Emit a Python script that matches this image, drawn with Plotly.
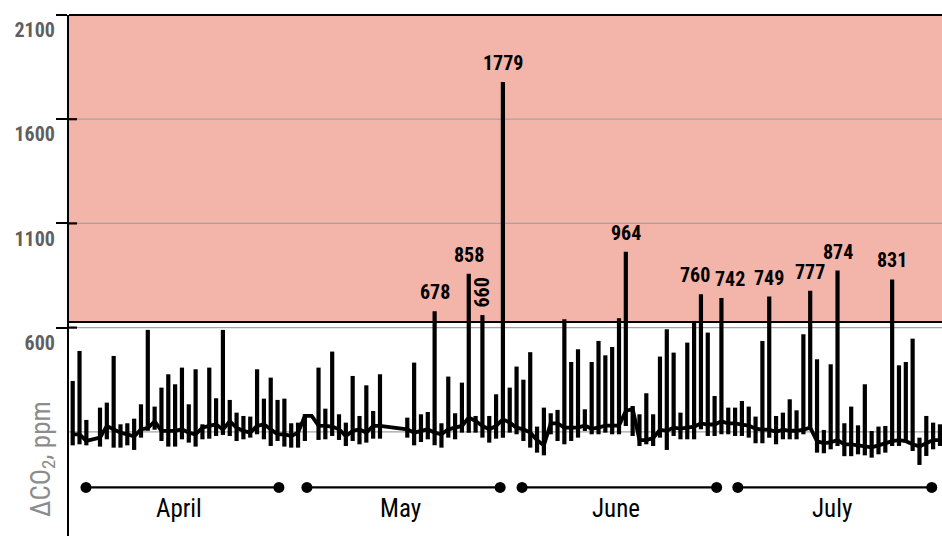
import numpy as np
import plotly.graph_objects as go

# Daily CO2 excess over background, ppm: slot index, daily min, mean, max
slot = [0, 1, 2, 4, 5, 6, 7, 8, 9, 10, 11, 12, 13, 14, 15, 16, 17, 18, 19, 20,
        21, 22, 23, 24, 25, 26, 27, 28, 29, 30, 31, 32, 33, 34, 35, 36, 37, 38, 39, 40,
        41, 42, 43, 44, 45, 49, 50, 51, 52, 53, 54, 55, 56, 57, 58, 59, 60, 61, 62, 63,
        64, 65, 66, 67, 68, 69, 70, 71, 72, 73, 74, 75, 76, 77, 78, 79, 80, 81, 82, 83,
        84, 85, 86, 87, 88, 89, 90, 91, 92, 93, 94, 95, 96, 97, 98, 99, 100, 101, 102, 103,
        104, 105, 106, 107, 108, 109, 110, 111, 112, 113, 114, 115, 116, 117, 118, 119, 120, 121, 122, 123,
        124, 125, 126, 127]
low = [35, 40, 35, 29, 64, 24, 24, 35, 13, 72, 105, 110, 56, 29, 29, 64, 48, 29, 64, 67,
       80, 85, 80, 56, 64, 72, 88, 64, 32, 56, 29, 24, 24, 56, 176, 61, 64, 80, 61, 32,
       56, 40, 48, 67, 67, 72, 35, 51, 64, 35, 24, 72, 64, 96, 96, 96, 72, 48, 67, 72,
       96, 88, 56, 24, 0, -13, 88, 56, 40, 56, 72, 104, 88, 88, 96, 88, 88, 128, 80, 32,
       40, 32, 72, 13, 80, 64, 64, 64, 112, 80, 80, 88, 88, 80, 80, 72, 45, 45, 72, 40,
       64, 64, 64, 88, 112, 0, -3, 16, 32, -17, -17, -8, -13, -24, -8, 0, 32, 32, 48, 8,
       -59, -16, 16, 32]
mean = [88, 88, 56, 72, 128, 112, 96, 88, 77, 112, 118, 150, 104, 104, 104, 112, 96, 88, 120, 128,
        136, 110, 150, 120, 104, 96, 128, 136, 112, 88, 88, 80, 96, 176, 176, 130, 128, 125, 112, 80,
        104, 112, 96, 128, 128, 112, 96, 104, 112, 96, 88, 112, 120, 128, 168, 152, 128, 112, 128, 160,
        144, 120, 112, 96, 60, 35, 140, 140, 120, 120, 120, 130, 115, 120, 130, 130, 130, 200, 210, 60,
        60, 70, 110, 105, 120, 115, 120, 125, 140, 135, 135, 150, 140, 140, 135, 130, 115, 110, 110, 100,
        110, 105, 105, 110, 120, 55, 45, 50, 60, 40, 40, 35, 30, 25, 35, 45, 55, 60, 55, 40,
        30, 45, 60, 60]
high = [344, 488, 157, 216, 240, 464, 136, 141, 163, 232, 589, 221, 312, 376, 328, 408, 232, 400, 136, 408,
        261, 589, 253, 192, 176, 173, 400, 259, 360, 253, 259, 141, 144, 184, 176, 408, 211, 485, 184, 144,
        368, 176, 323, 200, 376, 168, 432, 184, 195, 678, 141, 365, 189, 336, 858, 176, 660, 176, 280, 1779,
        312, 413, 350, 482, 125, 216, 189, 205, 640, 435, 496, 208, 435, 536, 467, 507, 645, 964, 224, 184,
        285, 184, 461, 592, 480, 192, 528, 632, 760, 576, 272, 742, 216, 216, 248, 221, 173, 536, 749, 176,
        192, 256, 203, 568, 777, 448, 109, 424, 874, 141, 221, 131, 328, 104, 125, 128, 831, 419, 435, 547,
        72, 176, 144, 136]

# Peaks that enter the alert zone get their value written above them
peak_slot = [53, 58, 60, 63, 81, 92, 95, 102, 108, 112, 120]
peak_value = [678, 858, 660, 1779, 964, 760, 742, 749, 777, 874, 831]
peak_angle = [0, 0, -90, 0, 0, 0, 0, 0, 0, 0, 0]
peak_dx = [0, 0, 0, 0, 0, -6, 9, 0, 0, 0, 0]

# Month spans drawn under the series
month_names = ["April", "May", "June", "July"]
month_start = [1.95, 34.3, 65.8, 97.4]
month_end = [30.2, 62.6, 94.3, 125.8]

alert_level = 627
y_ticks = [600, 1100, 1600, 2100]
y_grid = [100, 600, 1100, 1600]

FONT = "Roboto Condensed, Roboto, sans-serif"

mean_a = np.array(mean, dtype=float)
err_up = np.array(high, dtype=float) - mean_a
err_dn = mean_a - np.array(low, dtype=float)

fig = go.Figure()

# Alert zone background
fig.add_shape(type="rect", xref="paper", x0=0, x1=1, yref="y", y0=alert_level, y1=2100,
              fillcolor="#F3B4AA", line_width=0, layer="below")
for g in y_grid:
    fig.add_shape(type="line", xref="paper", x0=0, x1=1, yref="y", y0=g, y1=g,
                  line=dict(color="#a3a3a3", width=1.3), layer="below")
fig.add_shape(type="line", xref="paper", x0=0, x1=1, yref="y", y0=alert_level, y1=alert_level,
              line=dict(color="black", width=2), layer="below")

# Daily range bars with the daily mean line through them
fig.add_trace(go.Scatter(
    x=slot, y=mean, mode="lines",
    line=dict(color="black", width=3.8),
    error_y=dict(type="data", symmetric=False, array=err_up, arrayminus=err_dn,
                 color="black", thickness=4.2, width=0),
    hoverinfo="skip", showlegend=False,
))

for s, v, a, dx in zip(peak_slot, peak_value, peak_angle, peak_dx):
    fig.add_annotation(x=s, y=v, text=str(v), showarrow=False, textangle=a,
                       yanchor="bottom", xshift=dx, yshift=5 if a == 0 else 6,
                       font=dict(family=FONT, size=20, color="black", weight="bold"))

# Month spans
for name, s, e in zip(month_names, month_start, month_end):
    fig.add_trace(go.Scatter(
        x=[s, e], y=[-167, -167], mode="lines+markers",
        line=dict(color="black", width=2.2),
        marker=dict(color="black", size=11),
        hoverinfo="skip", showlegend=False,
    ))
    fig.add_annotation(x=(s + e) / 2, y=-267, text=name, showarrow=False, xshift=-3,
                       font=dict(family=FONT, size=25, color="black"))

# Top border and the inner half of the crossing tick marks
fig.add_shape(type="line", xref="paper", x0=0, x1=1, yref="paper", y0=1, y1=1,
              line=dict(color="black", width=2.2))
for t in y_ticks[:-1]:
    fig.add_shape(type="line", xref="paper", x0=0, x1=0.0092, yref="y", y0=t, y1=t,
                  line=dict(color="black", width=2.2))

fig.add_annotation(xref="paper", x=-0.03, y=-32, text="ΔCO<sub>2</sub>, ppm",
                   showarrow=False, textangle=-90, xanchor="center", yanchor="middle",
                   font=dict(family=FONT, size=27, color="#8c8c8c"))

fig.update_layout(
    width=942, height=536,
    margin=dict(l=69, r=0, t=15, b=0),
    plot_bgcolor="white", paper_bgcolor="white",
    font=dict(family=FONT),
    xaxis=dict(range=[-0.54, 127.3], visible=False, showgrid=False, zeroline=False),
    yaxis=dict(range=[-400, 2100], tickvals=y_ticks, ticktext=[str(t) for t in y_ticks],
               showgrid=False, zeroline=False, showline=True, linecolor="black", linewidth=2.2,
               ticks="outside", ticklen=11, tickwidth=2.2, tickcolor="black",
               ticklabelposition="outside bottom", ticklabelstandoff=8,
               tickfont=dict(family=FONT, size=20, color="#5f5f5f", weight="bold")),
)

fig.write_html("out.html")
